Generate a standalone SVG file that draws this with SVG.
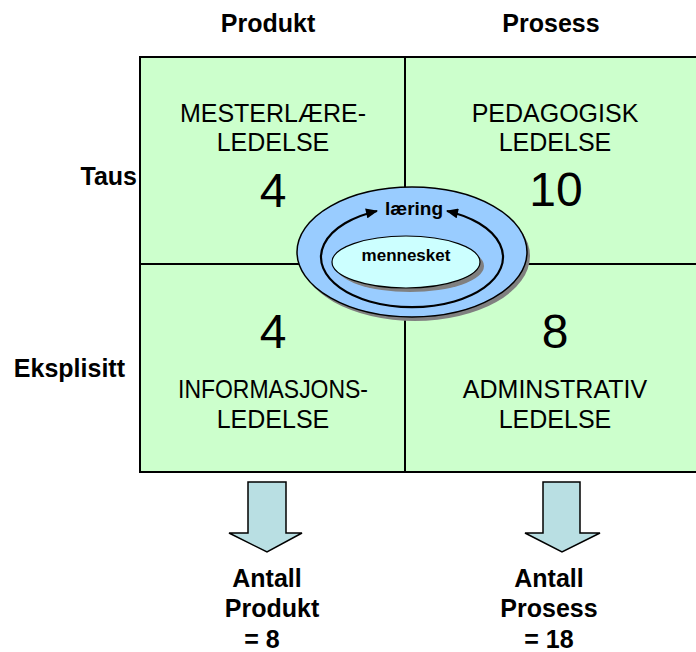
<svg xmlns="http://www.w3.org/2000/svg" width="696" height="652" viewBox="0 0 696 652">
  <defs>
    <style>
      .hdr { font-family: "Liberation Sans", Arial, sans-serif; font-weight: bold; font-size: 25px; fill: #000; }
      .qt { font-family: "Liberation Sans", Arial, sans-serif; font-size: 25px; fill: #000; text-anchor: middle; }
      .num { font-family: "Liberation Sans", Arial, sans-serif; font-size: 48px; fill: #000; text-anchor: middle; }
      .cell { fill: #ccffcc; stroke: #000; stroke-width: 2; }
      .down { fill: #b9dfe3; stroke: #000; stroke-width: 1.5; stroke-linejoin: miter; }
      .shadow { fill: #808080; }
      .ring { fill: none; stroke: #000; stroke-width: 2.2; }
      .mid { text-anchor: middle; }
      .small { font-size: 19px; }
      .tiny { font-size: 17px; }
    </style>
    <marker id="tip" viewBox="0 0 12 10" refX="11" refY="5" markerWidth="13" markerHeight="10" markerUnits="userSpaceOnUse" orient="auto-start-reverse">
      <path d="M0,0 L12,5 L0,10 Z" fill="#000"/>
    </marker>
  </defs>

  <rect width="696" height="652" fill="#fff"/>

  <!-- column and row headings -->
  <g id="headings">
    <text class="hdr mid" x="268" y="32">Produkt</text>
    <text class="hdr mid" x="551" y="32">Prosess</text>
    <text class="hdr" x="137" y="185" text-anchor="end">Taus</text>
    <text class="hdr" x="125" y="377" text-anchor="end">Eksplisitt</text>
  </g>

  <!-- four quadrants -->
  <g id="q-mesterlaere">
    <rect class="cell" x="140" y="57" width="265" height="207"/>
    <text class="qt" x="273" y="122">MESTERLÆRE-</text>
    <text class="qt" x="273" y="151">LEDELSE</text>
    <text class="num" x="273" y="207">4</text>
  </g>
  <g id="q-pedagogisk">
    <rect class="cell" x="405" y="57" width="300" height="207"/>
    <text class="qt" x="555" y="122">PEDAGOGISK</text>
    <text class="qt" x="555" y="151">LEDELSE</text>
    <text class="num" x="556" y="206">10</text>
  </g>
  <g id="q-informasjon">
    <rect class="cell" x="140" y="264" width="265" height="208"/>
    <text class="num" x="273" y="348">4</text>
    <text class="qt" x="273" y="398" textLength="190" lengthAdjust="spacingAndGlyphs">INFORMASJONS-</text>
    <text class="qt" x="273" y="428">LEDELSE</text>
  </g>
  <g id="q-administrativ">
    <rect class="cell" x="405" y="264" width="300" height="208"/>
    <text class="num" x="555" y="348">8</text>
    <text class="qt" x="555" y="398">ADMINSTRATIV</text>
    <text class="qt" x="555" y="428">LEDELSE</text>
  </g>

  <!-- central learning ellipse -->
  <g id="laering">
    <ellipse class="shadow" cx="415" cy="256" rx="115" ry="65"/>
    <ellipse cx="412" cy="252" rx="115" ry="65" fill="#99ccff" stroke="#000" stroke-width="1.5"/>
    <text class="hdr mid small" x="414" y="215">læring</text>
  </g>

  <g id="mennesket">
    <ellipse class="shadow" cx="410" cy="266" rx="74" ry="26"/>
    <ellipse cx="406" cy="262" rx="74" ry="26" fill="#ccffff" stroke="#000" stroke-width="1.2"/>
    <text class="hdr mid tiny" x="406" y="261">mennesket</text>
  </g>

  <!-- cycle arrows around the inner ellipse -->
  <g id="connectors">
    <path class="ring" d="M447,211 A91,50 0 1 1 377,211" marker-start="url(#tip)" marker-end="url(#tip)"/>
  </g>

  <!-- totals -->
  <g id="sum-produkt">
    <path class="down" d="M248,482 H286 V533 H302 L267,552 L229,533 H248 Z"/>
    <text class="hdr mid" x="267" y="587">Antall</text>
    <text class="hdr mid" x="272" y="617">Produkt</text>
    <text class="hdr mid" x="262" y="648">= 8</text>
  </g>
  <g id="sum-prosess">
    <path class="down" d="M543,482 H580 V533 H600 L562,552 L525,533 H543 Z"/>
    <text class="hdr mid" x="549" y="587">Antall</text>
    <text class="hdr mid" x="549" y="617">Prosess</text>
    <text class="hdr mid" x="549" y="648">= 18</text>
  </g>
</svg>
